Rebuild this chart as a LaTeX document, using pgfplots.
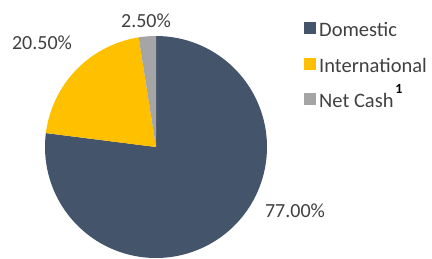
\documentclass[border=0pt]{standalone}
\usepackage{pgfplots}
\pgfplotsset{compat=1.18}
\usepackage{fontspec}
\setmainfont{Carlito}
\definecolor{dom}{HTML}{44546A}
\definecolor{intl}{HTML}{FFC000}
\definecolor{cash}{HTML}{A5A5A5}
\definecolor{txt}{HTML}{404040}
\begin{document}
\begin{tikzpicture}
\begin{axis}[
  scale only axis, width=432pt, height=258pt,
  xmin=0, xmax=432, ymin=0, ymax=258,
  hide axis, clip=false,
  legend style={at={(axis cs:304,236)}, anchor=north west, draw=none, fill=none, inner sep=0pt,
    font=\fontsize{20.5}{22}\selectfont\color{txt},
    nodes={inner sep=0pt, text height=13pt, text depth=4pt},
    row sep=17pt},
  legend cell align=left,
  legend image code/.code={\fill[#1] (0pt,-2pt) rectangle (12pt,10pt); \path (15pt,0pt);},
]
\path (axis cs:0,0) rectangle (axis cs:432,258);
% values in percent: Domestic 77.0, International 20.5, Net Cash 2.5
% angles: start at 90 deg, clockwise; 1 % = 3.6 deg
\addplot[fill=dom, draw=none, domain=-187.2:90, samples=120]
  ({156+111*cos(x)},{111+111*sin(x)}) -- (axis cs:156,111) -- cycle;
\addplot[fill=intl, draw=none, domain=-261:-187.2, samples=40]
  ({156+111*cos(x)},{111+111*sin(x)}) -- (axis cs:156,111) -- cycle;
\addplot[fill=cash, draw=none, domain=-270:-261, samples=10]
  ({156+111*cos(x)},{111+111*sin(x)}) -- (axis cs:156,111) -- cycle;
\legend{Domestic, International, Net Cash}
\node[font=\fontsize{20}{22}\selectfont, text=txt] at (axis cs:146,237) {2.50\%};
\node[font=\fontsize{20}{22}\selectfont, text=txt] at (axis cs:42,215) {20.50\%};
\node[font=\fontsize{20}{22}\selectfont, text=txt] at (axis cs:295,47) {77.00\%};
\node[font=\fontsize{14}{15}\selectfont\bfseries, text=black] at (axis cs:399,169) {1};
\end{axis}
\end{tikzpicture}
\end{document}
